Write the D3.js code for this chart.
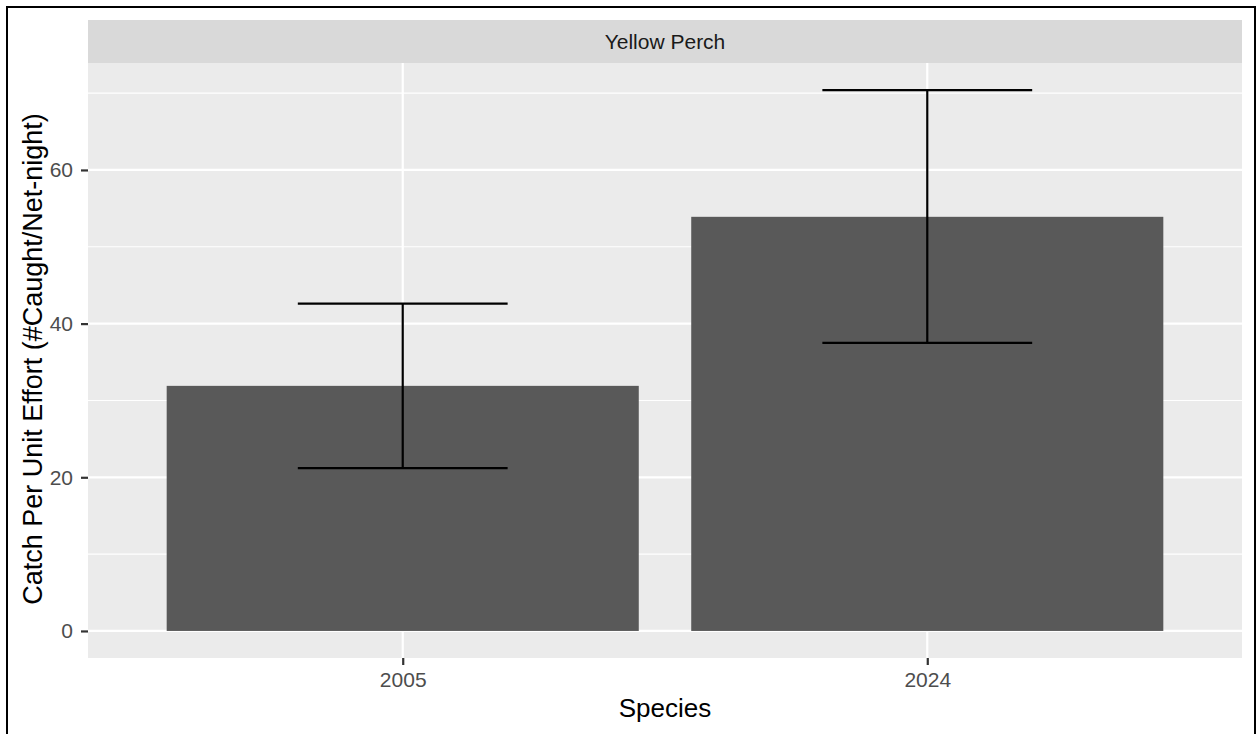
<!DOCTYPE html>
<html>
<head>
<meta charset="utf-8">
<script src="https://cdn.jsdelivr.net/npm/d3@7"></script>
<style>
  html, body { margin: 0; padding: 0; background: #fff; }
  svg { display: block; font-family: "Liberation Sans", Arial, sans-serif; }
</style>
</head>
<body>
<svg id="chart" width="1257" height="734"></svg>
<script>
// Catch per unit effort for yellow perch, by survey year
const years = ["2005", "2024"];
const cpue = [31.9, 53.9];
const cpueLower = [21.2, 37.5];
const cpueUpper = [42.6, 70.4];
const yTicks = [0, 20, 40, 60];
const yMinorTicks = [10, 30, 50, 70];
const facetLabel = "Yellow Perch";
const xTitle = "Species";
const yTitle = "Catch Per Unit Effort (#Caught/Net-night)";

const svg = d3.select("#chart");

// outer frame
svg.append("rect")
  .attr("x", 7).attr("y", 7)
  .attr("width", 1248).attr("height", 740)
  .attr("fill", "none").attr("stroke", "#000").attr("stroke-width", 2);

const panel = { left: 88, right: 1242, top: 63, bottom: 658 };
const strip = { top: 20, bottom: 63 };

// discrete x scale with ggplot-style 0.6 unit expansion
const x = d3.scalePoint()
  .domain(years)
  .range([panel.left, panel.right])
  .padding(0.6);
const step = x.step();

// continuous y scale with 5% expansion
const yMax = d3.max(cpueUpper);
const y = d3.scaleLinear()
  .domain([-0.05 * yMax, 1.05 * yMax])
  .range([panel.bottom, panel.top]);

// strip
svg.append("rect")
  .attr("x", panel.left).attr("y", strip.top)
  .attr("width", panel.right - panel.left).attr("height", strip.bottom - strip.top)
  .attr("fill", "#D9D9D9");
svg.append("text")
  .attr("x", (panel.left + panel.right) / 2)
  .attr("y", (strip.top + strip.bottom) / 2)
  .attr("dy", "0.36em")
  .attr("text-anchor", "middle")
  .attr("font-size", 21)
  .attr("fill", "#1A1A1A")
  .text(facetLabel);

// panel background
svg.append("rect")
  .attr("x", panel.left).attr("y", panel.top)
  .attr("width", panel.right - panel.left).attr("height", panel.bottom - panel.top)
  .attr("fill", "#EBEBEB");

const grid = svg.append("g");
grid.selectAll("line.minor").data(yMinorTicks).join("line")
  .attr("class", "minor")
  .attr("x1", panel.left).attr("x2", panel.right)
  .attr("y1", d => y(d)).attr("y2", d => y(d))
  .attr("stroke", "#fff").attr("stroke-width", 1.1);
grid.selectAll("line.major").data(yTicks).join("line")
  .attr("class", "major")
  .attr("x1", panel.left).attr("x2", panel.right)
  .attr("y1", d => y(d)).attr("y2", d => y(d))
  .attr("stroke", "#fff").attr("stroke-width", 2.2);
grid.selectAll("line.vmajor").data(years).join("line")
  .attr("class", "vmajor")
  .attr("x1", d => x(d)).attr("x2", d => x(d))
  .attr("y1", panel.top).attr("y2", panel.bottom)
  .attr("stroke", "#fff").attr("stroke-width", 2.2);

// bars
const barW = step * 0.9;
svg.append("g").selectAll("rect").data(years).join("rect")
  .attr("x", d => x(d) - barW / 2)
  .attr("width", barW)
  .attr("y", (d, i) => y(cpue[i]))
  .attr("height", (d, i) => y(0) - y(cpue[i]))
  .attr("fill", "#595959");

// error bars
const whiskW = step * 0.4;
const eb = svg.append("g").attr("stroke", "#000").attr("stroke-width", 2.2).attr("fill", "none");
years.forEach((d, i) => {
  const cx = x(d);
  eb.append("line").attr("x1", cx).attr("x2", cx)
    .attr("y1", y(cpueLower[i])).attr("y2", y(cpueUpper[i]));
  eb.append("line").attr("x1", cx - whiskW / 2).attr("x2", cx + whiskW / 2)
    .attr("y1", y(cpueUpper[i])).attr("y2", y(cpueUpper[i]));
  eb.append("line").attr("x1", cx - whiskW / 2).attr("x2", cx + whiskW / 2)
    .attr("y1", y(cpueLower[i])).attr("y2", y(cpueLower[i]));
});

// axes
const yAxis = svg.append("g")
  .attr("transform", `translate(${panel.left},0)`)
  .call(d3.axisLeft(y).tickValues(yTicks).tickSize(7).tickPadding(8));
const xAxis = svg.append("g")
  .attr("transform", `translate(0,${panel.bottom})`)
  .call(d3.axisBottom(x).tickSize(7).tickPadding(7));
[yAxis, xAxis].forEach(a => {
  a.select(".domain").remove();
  a.selectAll(".tick line").attr("stroke", "#333").attr("stroke-width", 2.2);
  a.selectAll(".tick text")
    .attr("fill", "#4D4D4D")
    .attr("font-size", 21)
    .attr("font-family", "Liberation Sans, Arial, sans-serif");
});

// axis titles
svg.append("text")
  .attr("x", (panel.left + panel.right) / 2)
  .attr("y", 717)
  .attr("text-anchor", "middle")
  .attr("font-size", 26)
  .attr("fill", "#000")
  .text(xTitle);
svg.append("text")
  .attr("transform", `translate(42,359) rotate(-90)`)
  .attr("text-anchor", "middle")
  .attr("font-size", 27)
  .attr("fill", "#000")
  .text(yTitle);
</script>
</body>
</html>
